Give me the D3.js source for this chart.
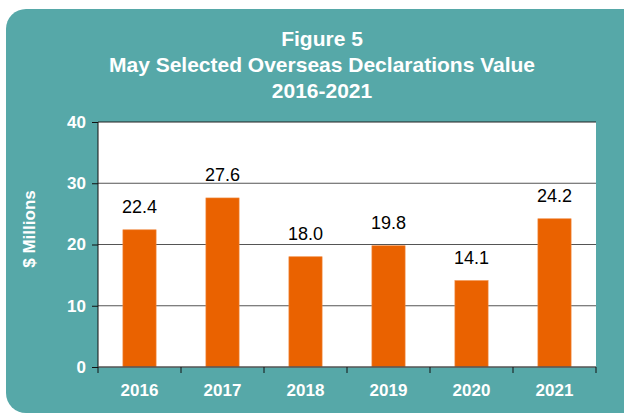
<!DOCTYPE html>
<meta charset="utf-8">
<style>
body { margin: 0; background: #fff; }
text { font-family: "Liberation Sans", Arial, sans-serif; }
.title { fill: #fff; font-weight: bold; font-size: 21px; }
.axis text { fill: #fff; font-weight: bold; font-size: 17px; font-family: "Liberation Sans", Arial, sans-serif; }
.val { fill: #000; font-size: 18px; }
</style>
<svg width="624" height="415"></svg>
<script src="https://cdn.jsdelivr.net/npm/d3@7"></script>
<script>

var years = ["2016", "2017", "2018", "2019", "2020", "2021"];
var values = [22.4, 27.6, 18.0, 19.8, 14.1, 24.2];
var yTicks = [0, 10, 20, 30, 40];
var titleLines = ["Figure 5", "May Selected Overseas Declarations Value", "2016-2021"];

var svg = d3.select("svg");

// teal panel
svg.append("rect")
   .attr("x", 6).attr("y", 9)
   .attr("width", 640).attr("height", 404)
   .attr("rx", 20)
   .attr("fill", "#56a8a8");

var pLeft = 98, pRight = 596, pTop = 122, pBottom = 367;

var x = d3.scaleBand().domain(years).range([pLeft, pRight]).paddingInner(0.6).paddingOuter(0.3);
var xb = d3.scaleBand().domain(years).range([pLeft, pRight]);
var y = d3.scaleLinear().domain([0, 40]).range([pBottom, pTop]);

// title
svg.selectAll(".title").data(titleLines).enter().append("text")
   .attr("class", "title")
   .attr("x", 322)
   .attr("y", function(d, i){ return 46 + i * 26; })
   .attr("text-anchor", "middle")
   .text(function(d){ return d; });

// plot background
svg.append("rect")
   .attr("x", pLeft).attr("y", pTop)
   .attr("width", pRight - pLeft).attr("height", pBottom - pTop)
   .attr("fill", "#fff");

// gridlines
svg.append("g").selectAll("line").data(yTicks.slice(1)).enter().append("line")
   .attr("x1", pLeft).attr("x2", pRight)
   .attr("y1", function(d){ return y(d); })
   .attr("y2", function(d){ return y(d); })
   .attr("stroke", function(d){ return d == 40 ? "#222" : "#555"; })
   .attr("stroke-width", 1.2);

// bars
svg.append("g").selectAll("rect").data(values).enter().append("rect")
   .attr("x", function(d, i){ return x(years[i]); })
   .attr("y", function(d){ return y(d); })
   .attr("width", x.bandwidth())
   .attr("height", function(d){ return y(0) - y(d); })
   .attr("fill", "#ea6200")
   .attr("stroke", "#f08a40")
   .attr("stroke-width", 0.6);

// value labels
svg.append("g").selectAll("text").data(values).enter().append("text")
   .attr("class", "val")
   .attr("x", function(d, i){ return x(years[i]) + x.bandwidth() / 2; })
   .attr("y", function(d){ return y(d) - 17; })
   .attr("text-anchor", "middle")
   .text(function(d){ return d.toFixed(1); });

// y axis
var yAxis = svg.append("g").attr("class", "axis")
   .attr("transform", "translate(" + pLeft + ",0)")
   .call(d3.axisLeft(y).tickValues(yTicks).tickSize(6).tickPadding(6));
yAxis.select(".domain").attr("stroke", "#111").attr("d", "M0," + pTop + "V" + pBottom);
yAxis.selectAll(".tick line").attr("stroke", "#111");

// x axis with ticks between categories
var xAxis = svg.append("g").attr("class", "axis")
   .attr("transform", "translate(0," + pBottom + ")")
   .call(d3.axisBottom(xb).tickSize(0).tickPadding(17));
xAxis.select(".domain").attr("stroke", "#555").attr("stroke-width", 1.5).attr("d", "M" + pLeft + ",0H" + pRight);
xAxis.selectAll(".sep").data(years.concat(["end"])).enter().append("line")
   .attr("x1", function(d, i){ return pLeft + i * xb.step(); })
   .attr("x2", function(d, i){ return pLeft + i * xb.step(); })
   .attr("y1", 0).attr("y2", 6)
   .attr("stroke", "#111");

// y title
svg.append("text")
   .attr("class", "title")
   .attr("transform", "translate(35,229) rotate(-90)")
   .attr("text-anchor", "middle")
   .style("font-size", "17px")
   .text("$ Millions");

</script>
